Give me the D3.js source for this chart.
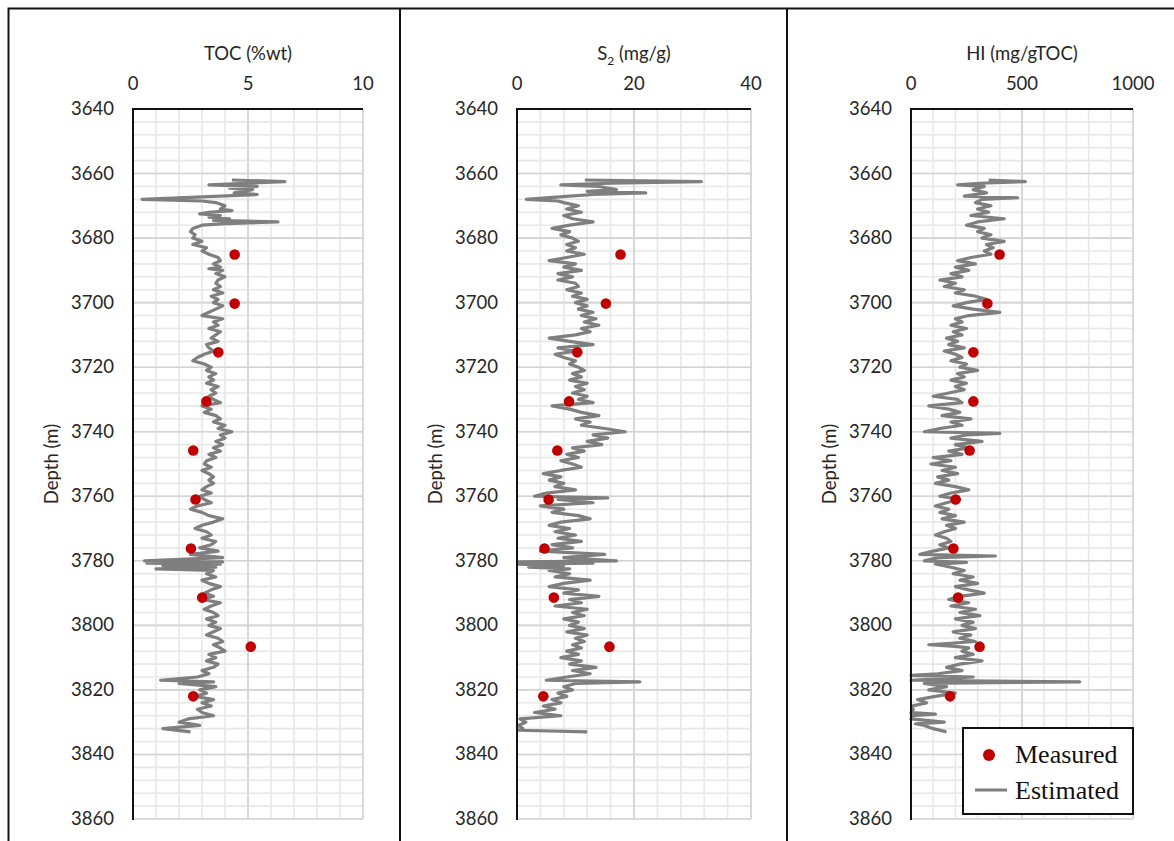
<!DOCTYPE html>
<html>
<head>
<meta charset="utf-8">
<script src="https://cdn.jsdelivr.net/npm/d3@7"></script>
<style>
  body { margin: 0; background: #fff; }
  svg { display: block; }
  text { font-family: Lato, "Open Sans", sans-serif; fill: #262626; }
</style>
</head>
<body>
<div id="chart"></div>
<script>
// depth range and ticks
const depthDomain = [3640, 3860];
const depthTicks = [3640, 3660, 3680, 3700, 3720, 3740, 3760, 3780, 3800, 3820, 3840, 3860];

// measured (core) samples
const measDepth = [3685.1, 3700.3, 3715.4, 3730.6, 3745.8, 3761.0, 3776.2, 3791.4, 3806.6, 3822.0];
const tocMeas = [4.42, 4.42, 3.71, 3.19, 2.62, 2.72, 2.52, 3.01, 5.12, 2.62];
const s2Meas = [17.7, 15.2, 10.3, 8.9, 6.9, 5.4, 4.7, 6.3, 15.8, 4.5];
const hiMeas = [399, 344, 281, 281, 264, 201, 191, 212, 309, 176];

// estimated logs, [depth, value]
const tocEst = [[3662,4.3],[3662.5,6.6],[3663,4.9],[3663.5,3.3],[3664,5.4],[3664.5,4.2],[3665,5.2],[3666,4.4],[3666.5,5.4],[3667,3.8],[3668,0.4],[3668.5,3.0],[3669,3.6],[3670,4.0],[3671,3.8],[3671.5,4.3],[3672,3.3],[3672.5,2.9],[3673,3.8],[3673.5,3.3],[3674,4.2],[3674.5,3.5],[3675,6.3],[3675.5,4.0],[3676,3.0],[3677,2.6],[3678,2.5],[3679,2.7],[3680,2.6],[3681,3.0],[3682,2.6],[3683,3.2],[3684,3.0],[3685,3.3],[3686,3.7],[3687,3.8],[3688,3.5],[3689,3.8],[3689.5,3.3],[3690,3.9],[3691,3.6],[3692,4.0],[3693,3.7],[3694,3.6],[3695,3.8],[3696,3.5],[3697,3.9],[3698,3.4],[3699,3.7],[3700,3.5],[3701,3.9],[3702,3.6],[3703,3.3],[3704,3.0],[3705,3.9],[3706,3.5],[3707,3.7],[3708,3.3],[3709,3.8],[3710,3.6],[3711,3.4],[3712,3.7],[3713,3.2],[3714,3.3],[3715,3.5],[3716,3.1],[3717,2.8],[3718,2.6],[3719,3.1],[3720,3.4],[3721,3.2],[3722,3.6],[3723,3.3],[3724,3.5],[3725,3.2],[3726,3.7],[3727,3.4],[3728,3.6],[3729,3.3],[3730,3.5],[3731,3.8],[3732,3.0],[3733,3.4],[3734,3.1],[3735,3.6],[3736,3.8],[3737,3.5],[3738,4.0],[3739,3.7],[3740,4.3],[3741,3.8],[3742,4.0],[3743,3.6],[3744,3.9],[3745,3.5],[3746,3.8],[3747,3.3],[3748,3.6],[3749,3.2],[3750,3.1],[3751,3.4],[3752,3.0],[3753,3.3],[3754,3.5],[3755,3.3],[3756,3.5],[3757,3.2],[3758,3.0],[3759,3.4],[3760,2.9],[3761,3.1],[3762,3.4],[3763,2.8],[3764,2.5],[3765,3.0],[3766,3.3],[3767,3.9],[3768,3.5],[3769,3.0],[3770,2.7],[3771,3.2],[3772,3.4],[3773,3.0],[3774,3.6],[3775,3.4],[3776,2.9],[3777,3.7],[3778,2.5],[3779,3.9],[3780,0.5],[3780.3,3.9],[3780.7,0.6],[3781,3.8],[3781.5,1.3],[3782,3.6],[3782.5,1.0],[3783,3.5],[3784,3.2],[3785,3.6],[3786,3.0],[3787,3.3],[3788,3.8],[3789,3.4],[3790,3.1],[3791,3.5],[3792,3.0],[3793,3.8],[3794,3.4],[3795,3.1],[3796,3.5],[3797,3.7],[3798,3.2],[3799,3.6],[3800,3.3],[3801,3.8],[3802,3.5],[3803,3.2],[3804,3.7],[3805,3.9],[3806,3.5],[3807,3.8],[3808,4.0],[3809,3.3],[3810,3.6],[3811,3.2],[3812,3.7],[3813,3.5],[3814,3.0],[3815,3.3],[3816,2.8],[3817,1.2],[3817.5,3.5],[3818,2.0],[3819,3.6],[3820,2.9],[3821,3.2],[3822,2.7],[3823,3.5],[3824,3.0],[3825,3.4],[3826,2.8],[3827,3.0],[3828,3.5],[3829,2.4],[3830,2.0],[3831,2.9],[3832,1.3],[3833,2.5]];

const s2Est = [[3662,11.6],[3662.5,31.5],[3663,16],[3663.5,7.5],[3664,14],[3665,17],[3665.5,12],[3666,22],[3666.5,13],[3667,9],[3668,1.6],[3668.5,7],[3669,8],[3670,10.5],[3671,8.5],[3672,11],[3673,8],[3674,9.5],[3675,13],[3676,9],[3677,6],[3678,9],[3679,7.5],[3680,9.5],[3681,10.5],[3682,8.5],[3683,10],[3684,8.5],[3685,11.5],[3686,8.5],[3687,5.5],[3688,10],[3689,8],[3690,11],[3691,7],[3692,9.5],[3693,7],[3694,10],[3695,10.5],[3696,8.5],[3697,11],[3698,9.5],[3699,12],[3700,10],[3701,12],[3702,10.5],[3703,13],[3704,11],[3705,13.5],[3706,11.5],[3707,14],[3708,11],[3709,12.5],[3710,10],[3711,5.5],[3712,9],[3713,13],[3714,7],[3715,10],[3716,6.5],[3717,8],[3718,10],[3719,9],[3720,10.5],[3721,11.5],[3722,9.5],[3723,11],[3724,9],[3725,12],[3726,10],[3727,11.5],[3728,9.5],[3729,12],[3730,10.5],[3731,13],[3732,6],[3733,9],[3734,11],[3735,14],[3736,10],[3737,12.5],[3738,11],[3739,15],[3740,18.5],[3741,13],[3742,15.5],[3743,12],[3744,14.5],[3745,9.5],[3746,11.5],[3747,8.5],[3748,10.5],[3749,7.5],[3750,9.5],[3751,11],[3752,7.5],[3753,4.5],[3754,7.5],[3755,5.5],[3756,8],[3757,6.5],[3758,10],[3759,5],[3760,3],[3760.5,15.5],[3761,7],[3762,13],[3763,4],[3764,8],[3765,6],[3766,10.5],[3767,12.5],[3768,7.5],[3769,5.5],[3770,9],[3771,6.5],[3772,10],[3773,7],[3774,11],[3775,6],[3776,9.5],[3777,4],[3778,15],[3779,8],[3780,17],[3780.3,0.2],[3780.7,13],[3781,0.3],[3781.5,8],[3782,2],[3782.5,9],[3783,5.5],[3784,9],[3785,6.5],[3786,12.5],[3787,8],[3788,5.5],[3789,10.5],[3790,8],[3791,14],[3792,9],[3793,11],[3794,6.5],[3795,12],[3796,9.5],[3797,11.5],[3798,8],[3799,10.5],[3800,9],[3801,11.5],[3802,8.5],[3803,12],[3804,10],[3805,11.5],[3806,9.5],[3807,11],[3808,8.5],[3809,10.5],[3810,7.5],[3811,11],[3812,9],[3813,13.5],[3814,9.5],[3815,12.5],[3816,8.5],[3817,5],[3817.5,21],[3818,10],[3819,8],[3820,9.5],[3821,7],[3822,8.5],[3823,6],[3824,7.5],[3825,4.5],[3826,6.5],[3827,3],[3828,7.5],[3829,0.5],[3830,1.5],[3831,0.2],[3832,1],[3832.5,0.2],[3833,12]];

const hiEst = [[3662,350],[3662.5,515],[3663,310],[3663.5,210],[3664,330],[3665,280],[3666,340],[3667,240],[3667.5,480],[3668,320],[3669,290],[3670,360],[3671,300],[3672,350],[3673,270],[3674,420],[3675,300],[3676,250],[3677,330],[3678,300],[3679,360],[3680,320],[3681,420],[3682,340],[3683,370],[3684,330],[3685,360],[3686,270],[3687,210],[3688,290],[3689,200],[3690,260],[3691,180],[3692,230],[3693,130],[3694,200],[3695,150],[3696,240],[3697,200],[3698,290],[3699,340],[3700,250],[3701,190],[3702,280],[3703,400],[3704,260],[3705,200],[3706,230],[3707,180],[3708,250],[3709,190],[3710,230],[3711,160],[3712,210],[3713,170],[3714,240],[3715,150],[3716,200],[3717,230],[3718,180],[3719,250],[3720,220],[3721,300],[3722,210],[3723,240],[3724,180],[3725,250],[3726,200],[3727,240],[3728,170],[3729,100],[3730,210],[3731,230],[3732,80],[3733,170],[3734,220],[3735,140],[3736,270],[3737,180],[3738,230],[3739,130],[3740,60],[3740.5,400],[3741,250],[3742,180],[3743,320],[3744,200],[3745,260],[3746,170],[3747,230],[3748,100],[3749,180],[3750,90],[3751,200],[3752,140],[3753,210],[3754,120],[3755,170],[3756,110],[3757,200],[3758,260],[3759,180],[3760,130],[3761,220],[3762,160],[3763,110],[3764,170],[3765,130],[3766,200],[3767,140],[3768,240],[3769,160],[3770,200],[3771,150],[3772,110],[3773,160],[3774,180],[3775,130],[3776,170],[3777,100],[3778,40],[3778.5,380],[3779,120],[3780,60],[3780.5,250],[3781,110],[3782,180],[3783,240],[3784,190],[3785,280],[3786,220],[3787,300],[3788,200],[3789,260],[3790,330],[3791,220],[3792,170],[3793,260],[3794,180],[3795,290],[3796,220],[3797,310],[3798,200],[3799,280],[3800,230],[3801,290],[3802,190],[3803,270],[3804,220],[3805,290],[3806,80],[3806.5,200],[3807,260],[3808,230],[3809,280],[3810,200],[3811,320],[3812,220],[3813,160],[3814,230],[3815,120],[3815.5,0],[3816,280],[3816.5,150],[3817,0],[3817.5,760],[3818,60],[3819,160],[3820,80],[3821,200],[3822,110],[3823,30],[3824,70],[3825,5],[3826,10],[3827,0],[3827.5,110],[3828,5],[3829,0],[3830,150],[3830.5,20],[3831,60],[3832,100],[3833,160]];

// track axes
const tocTicks = [0, 5, 10];
const s2Ticks = [0, 20, 40];
const hiTicks = [0, 500, 1000];
const legendLabels = ["Measured", "Estimated"];

const W = 1174, H = 841;
const plotTop = 109, plotBottom = 819;

var svg = d3.select("#chart").append("svg")
    .attr("width", W)
    .attr("height", H);

var y = d3.scaleLinear().domain(depthDomain).range([plotTop, plotBottom]);

// outer frame + dividers
svg.append("path")
    .attr("d", "M8.5," + H + "V8.5H" + W + "M400,8.5V" + H + "M787,8.5V" + H)
    .attr("fill", "none")
    .attr("stroke", "#111")
    .attr("stroke-width", 2);

renderTrack({left: 133, right: 363, ticks: tocTicks, est: tocEst, meas: tocMeas, title: ["TOC (%wt)"]});
renderTrack({left: 517, right: 751, ticks: s2Ticks, est: s2Est, meas: s2Meas, title: ["S", "2", " (mg/g)"]});
renderTrack({left: 911, right: 1133, ticks: hiTicks, est: hiEst, meas: hiMeas, title: ["HI (mg/gTOC)"]});
renderLegend();

function renderTrack(cfg) {
    var x = d3.scaleLinear()
        .domain([cfg.ticks[0], cfg.ticks[cfg.ticks.length - 1]])
        .range([cfg.left, cfg.right]);
    var g = svg.append("g");

    // minor grid: 10 divisions across, 4 m down
    var xMinor = d3.range(11).map(i => cfg.ticks[0] + i * (x.domain()[1] - x.domain()[0]) / 10);
    var yMinor = d3.range(depthDomain[0], depthDomain[1] + 1, 4);

    g.selectAll("line.ymin").data(yMinor).enter().append("line")
        .attr("x1", cfg.left).attr("x2", cfg.right)
        .attr("y1", d => y(d)).attr("y2", d => y(d))
        .attr("stroke", "#e8e8e8").attr("stroke-width", 1.6);
    g.selectAll("line.xmin").data(xMinor).enter().append("line")
        .attr("y1", plotTop).attr("y2", plotBottom)
        .attr("x1", d => x(d)).attr("x2", d => x(d))
        .attr("stroke", "#e8e8e8").attr("stroke-width", 1.6);

    // major grid
    g.selectAll("line.ymaj").data(depthTicks).enter().append("line")
        .attr("x1", cfg.left).attr("x2", cfg.right)
        .attr("y1", d => y(d)).attr("y2", d => y(d))
        .attr("stroke", "#d4d4d4").attr("stroke-width", 1.6);
    g.selectAll("line.xmaj").data(cfg.ticks).enter().append("line")
        .attr("y1", plotTop).attr("y2", plotBottom)
        .attr("x1", d => x(d)).attr("x2", d => x(d))
        .attr("stroke", "#d4d4d4").attr("stroke-width", 1.6);

    // estimated log
    g.append("path")
        .datum(cfg.est)
        .attr("fill", "none")
        .attr("stroke", "#7f7f7f")
        .attr("stroke-width", 3.2)
        .attr("stroke-linejoin", "round")
        .attr("d", d3.line().x(d => x(d[1])).y(d => y(d[0])));

    // measured
    g.selectAll("circle").data(cfg.meas).enter().append("circle")
        .attr("cx", d => x(d))
        .attr("cy", (d, i) => y(measDepth[i]))
        .attr("r", 5.3)
        .attr("fill", "#c00000");

    // axes lines (top and left, black)
    g.append("line").attr("x1", cfg.left - 1).attr("x2", cfg.right)
        .attr("y1", plotTop).attr("y2", plotTop)
        .attr("stroke", "#111").attr("stroke-width", 2);
    g.append("line").attr("x1", cfg.left).attr("x2", cfg.left)
        .attr("y1", plotTop).attr("y2", plotBottom + 1)
        .attr("stroke", "#111").attr("stroke-width", 2);

    // tick labels
    g.selectAll("text.xt").data(cfg.ticks).enter().append("text")
        .attr("x", d => x(d)).attr("y", 90)
        .attr("text-anchor", "middle")
        .style("font-size", "18.5px")
        .text(d => d);
    g.selectAll("text.yt").data(depthTicks).enter().append("text")
        .attr("x", cfg.left - 19).attr("y", d => y(d) + 6)
        .attr("text-anchor", "end")
        .style("font-size", "18.5px")
        .text(d => d);

    // title
    var t = g.append("text")
        .attr("x", (cfg.left + cfg.right) / 2).attr("y", 60)
        .attr("text-anchor", "middle")
        .style("font-size", "18.5px");
    if (cfg.title.length == 1) {
        t.text(cfg.title[0]);
    } else {
        t.append("tspan").text(cfg.title[0]);
        t.append("tspan").attr("dy", 5).style("font-size", "12px").text(cfg.title[1]);
        t.append("tspan").attr("dy", -5).text(cfg.title[2]);
    }

    g.append("text")
        .attr("transform", "translate(" + (cfg.left - 75) + "," + ((plotTop + plotBottom) / 2) + ") rotate(-90)")
        .attr("text-anchor", "middle")
        .style("font-size", "18.5px")
        .text("Depth (m)");
}

function renderLegend() {
    var lg = svg.append("g");
    lg.append("rect")
        .attr("x", 963).attr("y", 728)
        .attr("width", 170).attr("height", 86)
        .attr("fill", "#fff")
        .attr("stroke", "#111").attr("stroke-width", 2);
    lg.append("circle").attr("cx", 989).attr("cy", 755).attr("r", 6).attr("fill", "#c00000");
    lg.append("line").attr("x1", 975).attr("x2", 1007).attr("y1", 790).attr("y2", 790)
        .attr("stroke", "#7f7f7f").attr("stroke-width", 3);
    lg.selectAll("text").data(legendLabels).enter().append("text")
        .attr("x", 1015)
        .attr("y", (d, i) => 763 + i * 36)
        .style("font-family", "'Liberation Serif', 'Times New Roman', serif")
        .style("font-size", "26px")
        .style("fill", "#111")
        .text(d => d);
}
</script>
</body>
</html>
